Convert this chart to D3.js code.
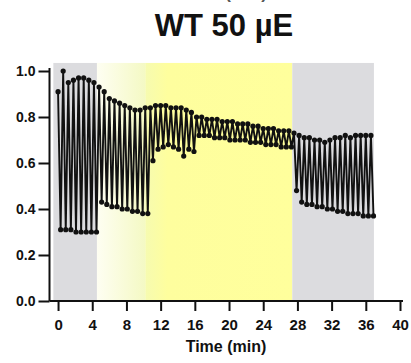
<!DOCTYPE html>
<html><head><meta charset="utf-8">
<script src="https://cdn.jsdelivr.net/npm/d3@7/dist/d3.min.js"></script>
<style>body{margin:0;background:#fff} svg{display:block}</style>
</head><body>
<svg id="c" width="411" height="363"></svg>
<script>
// ---- data ----
const fmTime   = [0,0.6,1.2,1.8,2.4,3.0,3.6,4.2,4.8,5.4,6.0,6.6,7.2,7.8,8.4,9.0,9.6,10.2,10.8,11.4,12.0,12.6,13.2,13.8,14.4,15.0,15.6,16.2,16.8,17.4,18.0,18.6,19.2,19.8,20.4,21.0,21.6,22.2,22.8,23.4,24.0,24.6,25.2,25.8,26.4,27.0,27.6,28.2,28.8,29.4,30.0,30.6,31.2,31.8,32.4,33.0,33.6,34.2,34.8,35.4,36.0,36.6];
const fmValues = [0.91,1.00,0.95,0.96,0.97,0.97,0.96,0.95,0.93,0.91,0.88,0.87,0.86,0.85,0.84,0.83,0.83,0.84,0.84,0.85,0.85,0.85,0.84,0.84,0.84,0.83,0.82,0.80,0.80,0.79,0.79,0.79,0.78,0.78,0.78,0.77,0.77,0.77,0.76,0.76,0.75,0.75,0.75,0.74,0.74,0.74,0.73,0.72,0.71,0.71,0.70,0.70,0.69,0.70,0.71,0.71,0.72,0.71,0.72,0.72,0.72,0.72];
const fsTime   = [0.3,0.9,1.5,2.1,2.7,3.3,3.9,4.5,5.1,5.7,6.3,6.9,7.5,8.1,8.7,9.3,9.9,10.5,11.1,11.7,12.3,12.9,13.5,14.1,14.7,15.3,15.9,16.5,17.1,17.7,18.3,18.9,19.5,20.1,20.7,21.3,21.9,22.5,23.1,23.7,24.3,24.9,25.5,26.1,26.7,27.3,27.9,28.5,29.1,29.7,30.3,30.9,31.5,32.1,32.7,33.3,33.9,34.5,35.1,35.7,36.3,36.9];
const fsValues = [0.31,0.31,0.31,0.30,0.30,0.30,0.30,0.30,0.43,0.42,0.41,0.41,0.40,0.40,0.39,0.39,0.38,0.38,0.61,0.66,0.67,0.68,0.67,0.66,0.63,0.66,0.65,0.72,0.72,0.72,0.71,0.71,0.71,0.70,0.70,0.70,0.70,0.69,0.69,0.69,0.68,0.68,0.68,0.67,0.67,0.67,0.48,0.43,0.42,0.42,0.41,0.41,0.40,0.40,0.39,0.39,0.38,0.38,0.38,0.37,0.37,0.37];
const phaseNames = ["dark","low light","light","dark"];
const phaseStart = [-0.55, 4.55, 10.2, 27.4];
const phaseEnd   = [4.55, 10.2, 27.4, 36.95];
const xTicks = [0,4,8,12,16,20,24,28,32,36,40];
const yTicks = [0.0,0.2,0.4,0.6,0.8,1.0];
const title = "WT 50 µE";
const xLabel = "Time (min)";

// ---- drawing ----
const svg = d3.select("#c");
const x = d3.scaleLinear().domain([-1, 40]).range([49.5, 400]);
const y = d3.scaleLinear().domain([0, 1]).range([301, 71]);
const yTop = y(1.035);

const defs = svg.append("defs");
const g1 = defs.append("linearGradient").attr("id","paleGrad").attr("x1","0").attr("x2","1").attr("y1","0").attr("y2","0");
g1.append("stop").attr("offset","0").attr("stop-color","#fefef2");
g1.append("stop").attr("offset","1").attr("stop-color","#f4f9c4");
const g2 = defs.append("linearGradient").attr("id","brightGrad").attr("x1","0").attr("x2","1").attr("y1","0").attr("y2","0");
g2.append("stop").attr("offset","0").attr("stop-color","#f6fbb0");
g2.append("stop").attr("offset","0.15").attr("stop-color","#fefe9e");
g2.append("stop").attr("offset","1").attr("stop-color","#ffff9c");
const phaseFill = {"dark":"#dcdcdf","low light":"url(#paleGrad)","light":"url(#brightGrad)"};

svg.append("g").selectAll("rect").data(phaseNames).join("rect")
  .attr("x",(d,i)=>x(phaseStart[i]))
  .attr("width",(d,i)=>x(phaseEnd[i])-x(phaseStart[i]))
  .attr("y",yTop).attr("height",y(0)-yTop)
  .attr("fill",d=>phaseFill[d]);

// interleaved trace
const pts = [];
fmTime.forEach((t,i)=>pts.push({t, v:fmValues[i]}));
fsTime.forEach((t,i)=>pts.push({t, v:fsValues[i]}));
pts.sort((a,b)=>a.t-b.t);

svg.append("path").datum(pts)
  .attr("fill","none").attr("stroke","#111").attr("stroke-width",1.9)
  .attr("stroke-linejoin","round")
  .attr("d", d3.line().x(d=>x(d.t)).y(d=>y(d.v)));
svg.append("g").selectAll("circle").data(pts).join("circle")
  .attr("cx",d=>x(d.t)).attr("cy",d=>y(d.v)).attr("r",2.6).attr("fill","#111");

// axes
const font = "'Liberation Sans', Arial, sans-serif";
const yAxis = svg.append("g").attr("transform","translate(49.5,0)")
  .call(d3.axisLeft(y).tickValues(yTicks).tickFormat(d3.format(".1f")).tickSize(11).tickPadding(3).tickSizeOuter(0));
const xAxis = svg.append("g").attr("transform",`translate(0,${y(0)})`)
  .call(d3.axisBottom(x).tickValues(xTicks).tickFormat(d3.format("d")).tickSize(10).tickPadding(8).tickSizeOuter(0));
[yAxis,xAxis].forEach(a=>{
  a.selectAll("path.domain").attr("stroke","#111").attr("stroke-width",2);
  a.selectAll(".tick line").attr("stroke","#111").attr("stroke-width",2);
  a.selectAll("text").attr("fill","#111").style("font-family",font).style("font-weight","bold");
});
yAxis.selectAll("text").style("font-size","14px");
xAxis.selectAll("text").style("font-size","15px");
xAxis.select("path.domain").attr("d",`M49.5,0H403`);
yAxis.select("path.domain").attr("d",`M0,${y(0)}V68`);

svg.append("text").attr("x",226).attr("y",352).attr("text-anchor","middle")
  .style("font-family",font).style("font-weight","bold").style("font-size","16px")
  .attr("fill","#111").text(xLabel);

svg.append("text").attr("x",224).attr("y",36).attr("text-anchor","middle")
  .style("font-family",font).style("font-weight","bold").style("font-size","31px")
  .attr("fill","#111").text(title);

// clipped axis title of the chart above (as in the reference)
svg.append("text").attr("x",224).attr("y",-1).attr("text-anchor","middle")
  .style("font-family",font).style("font-weight","bold").style("font-size","17px")
  .attr("fill","#555").text(xLabel);
</script>
</body></html>
